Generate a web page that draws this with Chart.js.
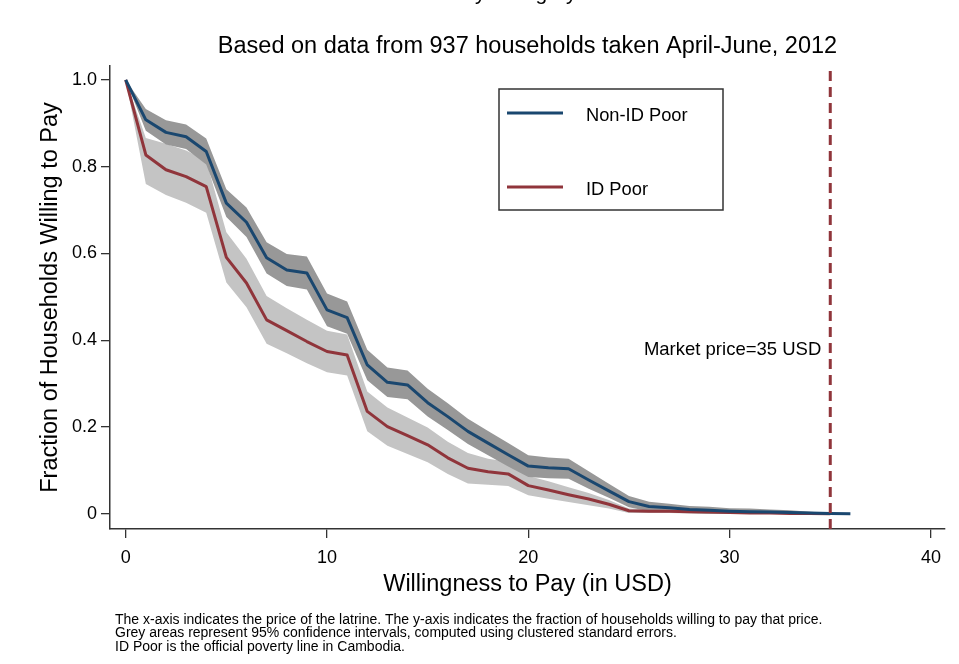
<!DOCTYPE html>
<html>
<head>
<meta charset="utf-8">
<script src="https://cdn.jsdelivr.net/npm/chart.js@4/dist/chart.umd.min.js"></script>
<style>
  html, body { margin: 0; padding: 0; background: #fff; }
  #wrap { width: 959px; height: 664px; }
</style>
</head>
<body>
<div id="wrap"><canvas id="graph" width="959" height="664"></canvas></div>
<script>
// price points (USD)
const prices = [0, 1, 2, 3, 4, 5, 6, 7, 8, 9, 10, 11, 12, 13, 14, 15, 16, 17, 18,
  19, 20, 21, 22, 23, 24, 25, 26, 27, 28, 29, 30, 31, 32, 33, 34, 35, 36];

// Non-ID Poor: fraction willing to pay, with 95% CI
const nonIdPoor = [1.0, 0.908, 0.879, 0.869, 0.835, 0.716, 0.672, 0.590, 0.562, 0.555,
  0.470, 0.452, 0.343, 0.303, 0.297, 0.256, 0.224, 0.190, 0.163, 0.136,
  0.110, 0.106, 0.104, 0.078, 0.053, 0.028, 0.017, 0.014, 0.010, 0.008,
  0.006, 0.005, 0.004, 0.003, 0.002, 0.001, 0.000];
const nonIdPoorHi = [1.0, 0.933, 0.907, 0.897, 0.865, 0.748, 0.706, 0.626, 0.599, 0.593,
  0.508, 0.489, 0.378, 0.337, 0.330, 0.288, 0.255, 0.219, 0.191, 0.163,
  0.135, 0.130, 0.127, 0.098, 0.069, 0.041, 0.028, 0.023, 0.018, 0.016,
  0.013, 0.012, 0.010, 0.008, 0.005, 0.002, 0.000];
const nonIdPoorLo = [1.0, 0.883, 0.851, 0.841, 0.805, 0.684, 0.638, 0.554, 0.525, 0.517,
  0.432, 0.415, 0.308, 0.269, 0.264, 0.224, 0.193, 0.161, 0.135, 0.109,
  0.085, 0.082, 0.081, 0.058, 0.037, 0.015, 0.006, 0.005, 0.002, 0.000,
  0.000, 0.000, 0.000, 0.000, 0.000, 0.000, 0.000];

// ID Poor: fraction willing to pay, with 95% CI
const idPoor = [1.0, 0.827, 0.793, 0.777, 0.754, 0.591, 0.532, 0.447, 0.422, 0.397,
  0.374, 0.366, 0.236, 0.201, 0.180, 0.159, 0.129, 0.105, 0.097, 0.092,
  0.065, 0.055, 0.044, 0.034, 0.022, 0.007, 0.006, 0.006, 0.005, 0.004,
  0.003, 0.002, 0.002, 0.001, 0.001, 0.000];
const idPoorHi = [1.0, 0.866, 0.853, 0.837, 0.814, 0.649, 0.588, 0.502, 0.474, 0.447,
  0.422, 0.413, 0.282, 0.245, 0.222, 0.199, 0.166, 0.140, 0.127, 0.120,
  0.087, 0.075, 0.061, 0.048, 0.032, 0.012, 0.010, 0.010, 0.009, 0.008,
  0.007, 0.006, 0.005, 0.003, 0.002, 0.000];
const idPoorLo = [1.0, 0.760, 0.735, 0.717, 0.694, 0.533, 0.476, 0.392, 0.370, 0.347,
  0.326, 0.319, 0.190, 0.157, 0.138, 0.119, 0.092, 0.070, 0.067, 0.064,
  0.043, 0.035, 0.027, 0.020, 0.012, 0.002, 0.002, 0.002, 0.001, 0.000,
  0.000, 0.000, 0.000, 0.000, 0.000, 0.000];

const marketPrice = 35;
const xTicks = [0, 10, 20, 30, 40];
const yTicks = [0, 0.2, 0.4, 0.6, 0.8, 1.0];
const yTickLabels = ['0', '0.2', '0.4', '0.6', '0.8', '1.0'];

const xMin = -0.78, xMax = 40.7;
const yMin = -0.035, yMax = 1.032;

const navy = 'rgb(26,71,111)';
const maroon = 'rgb(144,53,59)';
const FONT = 'Arial, "Liberation Sans", Helvetica, sans-serif';

function toPoints(arr) {
  return arr.map((y, i) => ({ x: prices[i], y: y }));
}

// all the loose text (titles, legend, notes) is drawn here
const textPlugin = {
  id: 'textPlugin',
  afterDraw(chart) {
    const ctx = chart.ctx;
    const area = chart.chartArea;
    const xs = chart.scales.x;
    const ys = chart.scales.y;
    const cx = (area.left + area.right) / 2;
    ctx.save();
    ctx.fillStyle = '#000';

    // main title sits above the page edge, only descenders show
    ctx.font = '21px ' + FONT;
    ctx.textAlign = 'left';
    ctx.textBaseline = 'alphabetic';
    ctx.fillText('Demand by Category', 378, 0);

    ctx.font = '23.5px ' + FONT;
    ctx.textAlign = 'center';
    ctx.textBaseline = 'middle';
    ctx.fillText('Based on data from 937 households taken April-June, 2012', cx, 47);

    ctx.fillText('Willingness to Pay (in USD)', cx, 585);

    ctx.save();
    ctx.translate(51, (area.top + area.bottom) / 2);
    ctx.rotate(-Math.PI / 2);
    ctx.fillText('Fraction of Households Willing to Pay', 0, 0);
    ctx.restore();

    // market price label
    ctx.font = '18.5px ' + FONT;
    ctx.textAlign = 'right';
    ctx.fillText('Market price=35 USD', xs.getPixelForValue(marketPrice) - 9, ys.getPixelForValue(0.378));

    // legend box
    ctx.strokeStyle = '#333';
    ctx.lineWidth = 1.5;
    ctx.strokeRect(499, 89, 224, 121);
    ctx.lineWidth = 3;
    ctx.strokeStyle = navy;
    ctx.beginPath(); ctx.moveTo(507, 113); ctx.lineTo(563, 113); ctx.stroke();
    ctx.strokeStyle = maroon;
    ctx.beginPath(); ctx.moveTo(507, 187); ctx.lineTo(563, 187); ctx.stroke();
    ctx.font = '18.3px ' + FONT;
    ctx.textAlign = 'left';
    ctx.fillText('Non-ID Poor', 586, 116);
    ctx.fillText('ID Poor', 586, 190);

    // notes
    ctx.font = '14px ' + FONT;
    ctx.fillText('The x-axis indicates the price of the latrine. The y-axis indicates the fraction of households willing to pay that price.', 115, 620);
    ctx.fillText('Grey areas represent 95% confidence intervals, computed using clustered standard errors.', 115, 633.5);
    ctx.fillText('ID Poor is the official poverty line in Cambodia.', 115, 647);
    ctx.restore();
  }
};

const ctx = document.getElementById('graph').getContext('2d');
const lineChart = new Chart(ctx, {
  type: 'line',
  data: {
    datasets: [
      {
        label: 'Market price',
        data: [{ x: marketPrice, y: yMin }, { x: marketPrice, y: yMax }],
        borderColor: maroon,
        borderWidth: 3,
        borderDash: [10, 6],
        pointRadius: 0,
        fill: false,
      },
      {
        label: 'Non-ID Poor',
        data: toPoints(nonIdPoor),
        borderColor: navy,
        borderWidth: 3,
        pointRadius: 0,
        fill: false,
      },
      {
        label: 'ID Poor',
        data: toPoints(idPoor),
        borderColor: maroon,
        borderWidth: 3,
        pointRadius: 0,
        fill: false,
      },
      {
        label: 'Non-ID Poor CI hi',
        data: toPoints(nonIdPoorHi),
        borderWidth: 0,
        pointRadius: 0,
        backgroundColor: 'rgb(152,152,152)',
        fill: '+1',
      },
      {
        label: 'Non-ID Poor CI lo',
        data: toPoints(nonIdPoorLo),
        borderWidth: 0,
        pointRadius: 0,
        fill: false,
      },
      {
        label: 'ID Poor CI hi',
        data: toPoints(idPoorHi),
        borderWidth: 0,
        pointRadius: 0,
        backgroundColor: 'rgb(196,196,196)',
        fill: '+1',
      },
      {
        label: 'ID Poor CI lo',
        data: toPoints(idPoorLo),
        borderWidth: 0,
        pointRadius: 0,
        fill: false,
      },
    ]
  },
  options: {
    responsive: false,
    animation: false,
    layout: { padding: { top: 66, right: 14, left: 0, bottom: 0 } },
    elements: { line: { tension: 0, borderJoinStyle: 'round' } },
    scales: {
      x: {
        type: 'linear',
        min: xMin,
        max: xMax,
        afterBuildTicks: (scale) => { scale.ticks = xTicks.map(v => ({ value: v })); },
        afterFit: (scale) => { scale.height = 135; },
        ticks: {
          color: '#000',
          font: { family: FONT, size: 18 },
          padding: 9,
          maxRotation: 0,
          callback: (v) => String(v),
        },
        grid: { drawOnChartArea: false, drawTicks: true, tickLength: 9, color: '#333', lineWidth: 1.3 },
        border: { display: true, color: '#333', width: 1.5 },
      },
      y: {
        min: yMin,
        max: yMax,
        afterBuildTicks: (scale) => { scale.ticks = yTicks.map(v => ({ value: v })); },
        afterFit: (scale) => { scale.width = 110; },
        ticks: {
          color: '#000',
          font: { family: FONT, size: 18 },
          padding: 4,
          callback: (v) => yTickLabels[yTicks.indexOf(v)],
        },
        grid: { drawOnChartArea: false, drawTicks: true, tickLength: 9, color: '#333', lineWidth: 1.3 },
        border: { display: true, color: '#333', width: 1.5 },
      },
    },
    plugins: {
      legend: { display: false },
      tooltip: { enabled: false },
      title: { display: false },
    },
  },
  plugins: [textPlugin],
});
</script>
</body>
</html>
